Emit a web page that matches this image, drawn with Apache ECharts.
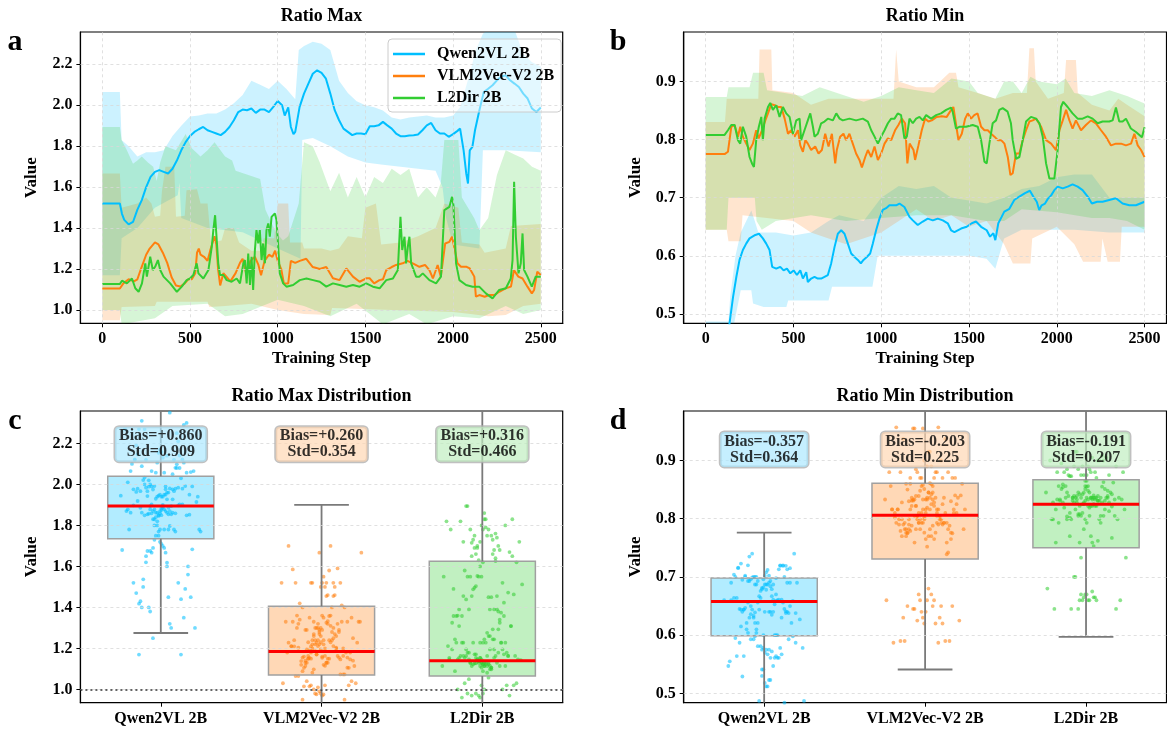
<!DOCTYPE html>
<html><head><meta charset="utf-8">
<script src="https://cdn.jsdelivr.net/npm/echarts@6/dist/echarts.min.js"></script>
<style>html,body{margin:0;padding:0;background:#fff}#c{width:1167px;height:731px}</style>
</head><body><div id="c"></div>
<script>
const models = ['Qwen2VL 2B', 'VLM2Vec-V2 2B', 'L2Dir 2B'];
const stepTicks = [0, 500, 1000, 1500, 2000, 2500];
const maxTicks = [1.0, 1.2, 1.4, 1.6, 1.8, 2.0, 2.2];
const minTicks = [0.5, 0.6, 0.7, 0.8, 0.9];

// ---- Panel a: Ratio Max (step, value)
const qwenMaxLine = [[0,1.52],[100,1.52],[112,1.47],[125,1.44],[150,1.418],[175,1.43],[200,1.49],[225,1.537],[250,1.60],[275,1.65],[300,1.675],[325,1.683],[350,1.675],[375,1.667],[400,1.69],[425,1.73],[450,1.78],[475,1.82],[500,1.85],[525,1.87],[550,1.883],[575,1.894],[600,1.878],[625,1.87],[650,1.862],[675,1.854],[700,1.87],[725,1.894],[750,1.927],[775,1.967],[800,1.979],[825,1.976],[850,1.984],[875,1.963],[900,1.979],[925,1.979],[950,1.967],[975,1.992],[1000,2.021],[1025,2.0],[1040,1.95],[1050,1.943],[1060,1.99],[1075,1.894],[1090,1.859],[1100,1.87],[1125,1.992],[1150,2.057],[1175,2.106],[1200,2.154],[1225,2.171],[1250,2.158],[1275,2.13],[1300,2.057],[1325,1.976],[1350,1.927],[1375,1.886],[1400,1.87],[1425,1.854],[1450,1.862],[1475,1.862],[1500,1.859],[1525,1.898],[1550,1.898],[1575,1.902],[1600,1.919],[1625,1.902],[1650,1.886],[1675,1.862],[1700,1.849],[1725,1.849],[1750,1.852],[1775,1.854],[1800,1.857],[1825,1.878],[1850,1.902],[1875,1.914],[1900,1.878],[1925,1.862],[1950,1.862],[1975,1.846],[2000,1.859],[2025,1.875],[2040,1.886],[2060,1.78],[2075,1.667],[2085,1.618],[2095,1.78],[2110,1.797],[2125,1.878],[2150,1.976],[2175,2.065],[2200,2.081],[2225,2.098],[2250,2.122],[2275,2.141],[2300,2.146],[2325,2.122],[2350,2.106],[2375,2.089],[2400,2.057],[2425,2.033],[2450,1.984],[2475,1.967],[2500,1.989]];
const qwenMaxUpper = [[0,2.065],[100,2.065],[110,1.83],[150,1.80],[200,1.75],[250,1.77],[300,1.77],[350,1.78],[400,1.85],[450,1.90],[500,1.945],[550,1.95],[600,1.96],[650,1.96],[700,1.98],[750,2.01],[800,2.05],[850,2.12],[900,2.10],[950,2.08],[1000,2.12],[1050,2.08],[1100,2.03],[1120,2.27],[1150,2.29],[1200,2.31],[1250,2.30],[1300,2.27],[1350,2.12],[1400,2.06],[1450,2.02],[1500,2.0],[1550,1.99],[1600,1.975],[1650,1.94],[1700,1.93],[1750,1.94],[1800,1.945],[1850,1.95],[1900,1.94],[1950,1.94],[2000,1.95],[2040,1.99],[2090,2.14],[2130,2.27],[2170,2.35],[2200,2.37],[2250,2.39],[2300,2.39],[2350,2.37],[2400,2.25],[2450,2.21],[2500,2.19]];
const qwenMaxLower = [[0,1.17],[100,1.17],[110,1.35],[200,1.40],[300,1.50],[430,1.56],[440,1.62],[450,1.45],[600,1.40],[800,1.38],[1000,1.30],[1130,1.25],[1140,1.83],[1200,1.84],[1300,1.80],[1400,1.75],[1500,1.72],[1600,1.71],[1700,1.70],[1800,1.69],[1900,1.68],[1940,1.60],[1960,1.45],[2000,1.32],[2150,1.30],[2170,1.78],[2300,1.78],[2500,1.77]];

const vlmMaxLine = [[0,1.105],[100,1.105],[120,1.13],[150,1.15],[180,1.14],[200,1.15],[220,1.20],[250,1.27],[270,1.30],[300,1.33],[320,1.32],[345,1.28],[370,1.23],[395,1.16],[420,1.12],[445,1.115],[470,1.13],[490,1.15],[510,1.15],[530,1.18],[540,1.28],[550,1.30],[560,1.27],[580,1.26],[600,1.24],[615,1.29],[640,1.36],[650,1.32],[660,1.20],[672,1.12],[690,1.18],[710,1.16],[730,1.14],[760,1.18],[785,1.23],[800,1.25],[820,1.18],[845,1.24],[870,1.26],[890,1.22],[905,1.17],[925,1.24],[950,1.27],[970,1.26],[985,1.29],[1000,1.24],[1020,1.20],[1035,1.13],[1060,1.13],[1075,1.24],[1100,1.23],[1126,1.24],[1163,1.25],[1200,1.21],[1240,1.20],[1277,1.21],[1315,1.155],[1353,1.146],[1391,1.203],[1429,1.163],[1467,1.138],[1505,1.155],[1524,1.155],[1550,1.13],[1580,1.146],[1600,1.15],[1619,1.195],[1650,1.21],[1675,1.22],[1713,1.228],[1740,1.24],[1770,1.228],[1808,1.211],[1840,1.22],[1865,1.195],[1885,1.154],[1912,1.22],[1930,1.163],[1955,1.325],[1979,1.333],[1994,1.358],[2006,1.31],[2025,1.228],[2045,1.211],[2077,1.211],[2095,1.203],[2121,1.163],[2130,1.065],[2150,1.073],[2180,1.065],[2206,1.073],[2235,1.073],[2263,1.089],[2300,1.106],[2330,1.114],[2347,1.195],[2372,1.163],[2396,1.154],[2424,1.114],[2449,1.081],[2462,1.098],[2480,1.187],[2500,1.171]];
const vlmMaxUpper = [[0,1.667],[100,1.667],[110,1.50],[200,1.52],[250,1.55],[280,1.52],[300,1.455],[330,1.46],[340,1.58],[360,1.70],[410,1.70],[420,1.455],[470,1.46],[480,1.585],[540,1.59],[560,1.52],[600,1.52],[620,1.33],[680,1.34],[700,1.40],[750,1.40],[780,1.33],[850,1.29],[900,1.29],[920,1.35],[980,1.35],[1000,1.52],[1060,1.52],[1070,1.33],[1140,1.33],[1150,1.30],[1250,1.30],[1300,1.29],[1350,1.30],[1400,1.36],[1480,1.35],[1500,1.50],[1560,1.52],[1590,1.32],[1700,1.33],[1800,1.36],[1900,1.40],[1950,1.52],[2030,1.50],[2050,1.33],[2150,1.32],[2180,1.28],[2300,1.30],[2330,1.41],[2500,1.42]];
const vlmMaxLower = [[0,0.95],[100,0.95],[110,1.015],[300,1.02],[310,1.04],[600,1.04],[610,1.015],[700,1.02],[850,1.03],[1000,1.0],[1150,0.98],[1300,0.976],[1310,1.01],[2000,0.99],[2100,0.98],[2200,0.97],[2300,0.975],[2400,1.02],[2500,1.03]];

const l2dMaxLine = [[0,1.127],[100,1.127],[112,1.143],[140,1.13],[169,1.154],[188,1.106],[207,1.089],[226,1.13],[245,1.228],[254,1.163],[273,1.26],[288,1.195],[301,1.211],[317,1.244],[330,1.195],[349,1.163],[387,1.13],[425,1.089],[453,1.114],[481,1.146],[500,1.154],[519,1.171],[538,1.228],[548,1.179],[576,1.154],[605,1.195],[624,1.309],[633,1.39],[643,1.463],[652,1.455],[661,1.228],[671,1.171],[690,1.171],[709,1.146],[737,1.138],[766,1.154],[785,1.13],[804,1.228],[813,1.244],[823,1.13],[832,1.276],[842,1.122],[851,1.26],[860,1.098],[870,1.293],[879,1.39],[889,1.325],[898,1.39],[908,1.244],[917,1.325],[927,1.228],[936,1.39],[946,1.423],[955,1.358],[965,1.455],[984,1.472],[993,1.439],[1003,1.309],[1012,1.179],[1031,1.13],[1050,1.114],[1088,1.122],[1126,1.146],[1164,1.154],[1202,1.146],[1240,1.138],[1277,1.114],[1315,1.13],[1353,1.122],[1391,1.114],[1429,1.122],[1467,1.114],[1505,1.13],[1543,1.114],[1581,1.106],[1619,1.146],[1657,1.154],[1685,1.195],[1700,1.455],[1710,1.293],[1723,1.358],[1732,1.228],[1742,1.309],[1751,1.358],[1761,1.228],[1770,1.228],[1789,1.163],[1808,1.163],[1827,1.179],[1865,1.146],[1903,1.13],[1931,1.163],[1950,1.488],[1960,1.496],[1979,1.504],[1994,1.553],[2002,1.512],[2017,1.228],[2036,1.146],[2074,1.122],[2111,1.114],[2149,1.114],[2187,1.081],[2225,1.057],[2263,1.098],[2301,1.106],[2329,1.154],[2339,1.244],[2348,1.626],[2358,1.358],[2373,1.179],[2386,1.228],[2396,1.374],[2405,1.195],[2424,1.163],[2449,1.114],[2471,1.163],[2500,1.163]];
const l2dMaxUpper = [[0,1.894],[100,1.894],[110,1.83],[140,1.78],[175,1.715],[200,1.73],[225,1.75],[260,1.72],[290,1.70],[310,1.63],[330,1.72],[360,1.80],[420,1.78],[475,1.86],[510,1.79],[560,1.75],[600,1.78],[640,1.82],[700,1.75],[740,1.73],[760,1.68],[900,1.64],[930,1.49],[990,1.38],[1030,1.34],[1060,1.36],[1120,1.52],[1150,1.82],[1200,1.80],[1240,1.72],[1300,1.58],[1350,1.67],[1400,1.55],[1450,1.65],[1500,1.55],[1550,1.65],[1600,1.62],[1650,1.69],[1700,1.66],[1750,1.69],[1800,1.55],[1850,1.60],[1900,1.55],[1930,1.62],[1950,1.83],[2030,1.83],[2050,1.55],[2120,1.45],[2150,1.39],[2200,1.45],[2250,1.66],[2300,1.78],[2350,1.76],[2400,1.74],[2450,1.70],[2500,1.68]];
const l2dMaxLower = [[0,1.0],[100,1.0],[110,0.93],[300,0.96],[400,1.02],[600,1.03],[700,0.97],[800,0.98],[1000,1.05],[1150,1.02],[1300,0.97],[1450,1.03],[1600,0.93],[1750,0.98],[1850,0.93],[2000,0.97],[2150,0.96],[2300,1.02],[2400,0.98],[2500,1.0]];

// ---- Panel b: Ratio Min (step, value)
const qwenMinLine = [[0,0.40],[100,0.40],[120,0.44],[136,0.484],[156,0.529],[175,0.564],[193,0.593],[212,0.61],[231,0.621],[250,0.63],[283,0.636],[304,0.638],[326,0.63],[345,0.621],[364,0.61],[379,0.581],[402,0.578],[425,0.581],[444,0.575],[463,0.578],[482,0.57],[501,0.575],[520,0.567],[539,0.575],[554,0.561],[573,0.572],[582,0.555],[601,0.561],[620,0.564],[639,0.561],[658,0.561],[677,0.564],[696,0.567],[715,0.587],[734,0.615],[753,0.638],[772,0.644],[791,0.638],[810,0.621],[829,0.604],[848,0.598],[867,0.593],[884,0.587],[899,0.593],[918,0.598],[937,0.604],[952,0.621],[971,0.644],[990,0.664],[1009,0.679],[1028,0.682],[1047,0.687],[1066,0.687],[1085,0.687],[1104,0.69],[1132,0.684],[1161,0.667],[1180,0.661],[1208,0.653],[1237,0.659],[1265,0.664],[1294,0.661],[1322,0.664],[1351,0.661],[1379,0.656],[1398,0.644],[1417,0.641],[1436,0.644],[1455,0.647],[1487,0.65],[1516,0.656],[1540,0.659],[1569,0.65],[1601,0.644],[1620,0.633],[1639,0.639],[1650,0.627],[1667,0.656],[1686,0.667],[1701,0.676],[1730,0.681],[1758,0.696],[1787,0.702],[1819,0.708],[1847,0.712],[1866,0.702],[1886,0.693],[1900,0.679],[1914,0.687],[1933,0.69],[1949,0.698],[1968,0.704],[1986,0.713],[2005,0.719],[2034,0.716],[2062,0.719],[2090,0.723],[2119,0.719],[2147,0.713],[2176,0.702],[2200,0.69],[2230,0.693],[2261,0.693],[2299,0.696],[2337,0.699],[2375,0.69],[2413,0.687],[2451,0.687],[2500,0.693]];
const qwenMinUpper = [[0,0.487],[130,0.487],[140,0.53],[170,0.60],[200,0.64],[260,0.678],[280,0.66],[300,0.64],[400,0.64],[500,0.635],[600,0.64],[700,0.66],[760,0.67],[900,0.66],[1000,0.70],[1100,0.72],[1200,0.715],[1300,0.72],[1400,0.70],[1500,0.695],[1600,0.69],[1700,0.70],[1800,0.715],[1900,0.72],[2000,0.735],[2100,0.74],[2200,0.74],[2300,0.70],[2400,0.70],[2500,0.70]];
const qwenMinLower = [[0,0.40],[130,0.40],[140,0.45],[200,0.541],[260,0.541],[270,0.518],[330,0.512],[460,0.512],[470,0.523],[700,0.523],[720,0.547],[950,0.547],[980,0.60],[1300,0.60],[1500,0.60],[1600,0.595],[1650,0.578],[1700,0.63],[1800,0.645],[2100,0.645],[2300,0.64],[2500,0.64]];

const vlmMinLine = [[0,0.775],[108,0.775],[127,0.779],[146,0.822],[165,0.825],[184,0.805],[197,0.822],[212,0.805],[231,0.793],[250,0.782],[269,0.793],[288,0.816],[302,0.802],[321,0.816],[340,0.833],[355,0.845],[374,0.861],[393,0.859],[412,0.856],[431,0.856],[450,0.836],[469,0.81],[487,0.816],[506,0.805],[526,0.816],[539,0.79],[554,0.779],[568,0.799],[582,0.793],[601,0.782],[624,0.788],[643,0.776],[662,0.782],[681,0.81],[700,0.788],[719,0.81],[738,0.759],[747,0.782],[766,0.805],[785,0.81],[800,0.799],[819,0.81],[838,0.793],[857,0.776],[876,0.765],[890,0.752],[909,0.77],[924,0.782],[943,0.77],[962,0.788],[981,0.765],[1000,0.776],[1019,0.793],[1038,0.802],[1057,0.799],[1079,0.816],[1098,0.825],[1117,0.836],[1136,0.828],[1149,0.759],[1162,0.793],[1184,0.782],[1193,0.765],[1212,0.79],[1231,0.816],[1250,0.836],[1269,0.831],[1288,0.833],[1316,0.839],[1345,0.84],[1373,0.839],[1392,0.848],[1411,0.856],[1421,0.858],[1440,0.799],[1459,0.81],[1478,0.836],[1493,0.845],[1512,0.836],[1530,0.842],[1549,0.845],[1569,0.822],[1588,0.816],[1607,0.816],[1626,0.81],[1645,0.805],[1664,0.799],[1683,0.799],[1702,0.793],[1721,0.77],[1736,0.739],[1749,0.742],[1768,0.776],[1787,0.776],[1806,0.799],[1825,0.816],[1844,0.831],[1863,0.833],[1882,0.836],[1911,0.822],[1939,0.799],[1968,0.793],[1996,0.782],[2015,0.816],[2034,0.833],[2053,0.851],[2072,0.833],[2090,0.819],[2109,0.833],[2138,0.816],[2166,0.825],[2195,0.833],[2223,0.828],[2252,0.816],[2280,0.805],[2309,0.79],[2337,0.793],[2366,0.793],[2394,0.79],[2423,0.793],[2442,0.81],[2461,0.79],[2480,0.782],[2500,0.77]];
const vlmMinUpper = [[0,0.83],[110,0.83],[120,0.87],[300,0.87],[307,0.955],[374,0.955],[380,0.885],[500,0.88],[600,0.86],[700,0.87],[1070,0.87],[1085,0.955],[1100,0.90],[1200,0.89],[1300,0.89],[1388,0.915],[1426,0.915],[1440,0.89],[1550,0.88],[1650,0.87],[1750,0.88],[1830,0.88],[1844,0.957],[1870,0.957],[1880,0.90],[1950,0.87],[2040,0.88],[2053,0.937],[2109,0.937],[2120,0.88],[2200,0.86],[2300,0.85],[2350,0.87],[2400,0.86],[2500,0.84]];
const vlmMinLower = [[0,0.645],[120,0.645],[130,0.625],[200,0.625],[210,0.67],[500,0.66],[600,0.64],[700,0.63],[800,0.62],[1000,0.64],[1100,0.66],[1200,0.68],[1300,0.66],[1400,0.67],[1500,0.65],[1600,0.66],[1700,0.62],[1750,0.587],[1850,0.587],[1860,0.63],[2000,0.65],[2100,0.62],[2150,0.59],[2250,0.59],[2260,0.63],[2290,0.59],[2360,0.59],[2370,0.65],[2500,0.65]];

const l2dMinLine = [[0,0.808],[108,0.808],[127,0.816],[146,0.825],[165,0.825],[184,0.799],[197,0.793],[212,0.822],[231,0.805],[250,0.77],[264,0.759],[275,0.753],[288,0.799],[303,0.822],[317,0.839],[326,0.799],[336,0.836],[355,0.856],[368,0.863],[383,0.851],[402,0.859],[421,0.839],[440,0.856],[459,0.845],[478,0.839],[497,0.81],[516,0.833],[535,0.836],[544,0.799],[563,0.816],[582,0.833],[596,0.845],[611,0.822],[620,0.805],[639,0.81],[658,0.828],[677,0.831],[696,0.836],[725,0.833],[744,0.845],[763,0.836],[781,0.833],[819,0.836],[857,0.833],[895,0.836],[924,0.831],[943,0.816],[962,0.805],[981,0.793],[1000,0.805],[1019,0.816],[1038,0.828],[1057,0.836],[1076,0.836],[1094,0.845],[1113,0.842],[1132,0.802],[1146,0.805],[1161,0.836],[1180,0.828],[1199,0.836],[1218,0.839],[1237,0.833],[1256,0.842],[1284,0.836],[1313,0.842],[1341,0.845],[1370,0.851],[1398,0.855],[1407,0.848],[1426,0.819],[1445,0.822],[1483,0.822],[1521,0.825],[1550,0.822],[1569,0.799],[1588,0.762],[1601,0.759],[1616,0.793],[1635,0.828],[1654,0.833],[1673,0.851],[1692,0.854],[1720,0.848],[1739,0.828],[1749,0.799],[1768,0.767],[1787,0.77],[1806,0.799],[1825,0.831],[1853,0.839],[1882,0.836],[1901,0.828],[1920,0.805],[1939,0.759],[1958,0.733],[1986,0.733],[2005,0.782],[2024,0.856],[2037,0.865],[2062,0.856],[2090,0.845],[2119,0.836],[2147,0.836],[2176,0.84],[2204,0.836],[2233,0.828],[2261,0.831],[2299,0.831],[2318,0.833],[2337,0.855],[2356,0.831],[2375,0.831],[2394,0.836],[2422,0.819],[2451,0.813],[2485,0.804],[2500,0.821]];
const l2dMinUpper = [[0,0.873],[120,0.873],[130,0.89],[250,0.89],[270,0.915],[330,0.915],[350,0.885],[450,0.88],[550,0.875],[650,0.89],[800,0.875],[900,0.865],[1000,0.875],[1100,0.89],[1200,0.885],[1300,0.88],[1400,0.905],[1500,0.90],[1550,0.88],[1650,0.87],[1700,0.90],[1750,0.90],[1800,0.88],[1850,0.908],[1900,0.90],[2000,0.895],[2050,0.905],[2100,0.88],[2200,0.875],[2300,0.885],[2400,0.875],[2500,0.862]];
const l2dMinLower = [[0,0.645],[120,0.645],[130,0.70],[280,0.70],[290,0.66],[320,0.645],[400,0.66],[600,0.67],[800,0.66],[1000,0.665],[1200,0.67],[1400,0.67],[1600,0.66],[1700,0.66],[1800,0.68],[2000,0.675],[2200,0.665],[2300,0.665],[2400,0.66],[2500,0.645]];

const maxQ1 = [1.735, 1.07, 1.065];
const maxMedian = [1.895, 1.185, 1.14];
const maxQ3 = [2.04, 1.405, 1.625];
const maxWhiskerLow = [1.275, 0.90, 0.90];
const maxWhiskerHigh = [2.50, 1.90, 2.50];
const maxBias = ['+0.860', '+0.260', '+0.316'];
const maxStd = ['0.909', '0.354', '0.466'];

const minQ1 = [0.599, 0.731, 0.750];
const minMedian = [0.658, 0.806, 0.825];
const minQ3 = [0.698, 0.861, 0.867];
const minWhiskerLow = [0.45, 0.541, 0.597];
const minWhiskerHigh = [0.776, 1.02, 1.02];
const minBias = ['-0.357', '-0.203', '-0.191'];
const minStd = ['0.364', '0.225', '0.207'];

// ---------------------------------------------------------------
const FONT = '"Liberation Serif", "Times New Roman", serif';
const colors = ['#00BFFF', '#FF7F0E', '#32CD32'];
const bandColors = ['rgba(0,191,255,0.2)', 'rgba(255,127,14,0.2)', 'rgba(50,205,50,0.2)'];
const boxFill = ['rgba(0,191,255,0.3)', 'rgba(255,127,14,0.3)', 'rgba(50,205,50,0.3)'];
const annoFill = ['rgba(170,232,255,0.85)', 'rgba(255,214,178,0.85)', 'rgba(190,238,190,0.85)'];
const ptColors = ['rgba(0,191,255,0.7)', 'rgba(255,127,14,0.7)', 'rgba(50,205,50,0.7)'];

const maxLines = [qwenMaxLine, vlmMaxLine, l2dMaxLine];
const maxUpper = [qwenMaxUpper, vlmMaxUpper, l2dMaxUpper];
const maxLower = [qwenMaxLower, vlmMaxLower, l2dMaxLower];
const minLines = [qwenMinLine, vlmMinLine, l2dMinLine];
const minUpper = [qwenMinUpper, vlmMinUpper, l2dMinUpper];
const minLower = [qwenMinLower, vlmMinLower, l2dMinLower];

const tickFont = {fontFamily: FONT, fontWeight: 'bold', fontSize: 16, color: '#000'};
const nameFont = {fontFamily: FONT, fontWeight: 'bold', fontSize: 17, color: '#000'};
const axLine = {show: true, onZero: false, lineStyle: {color: '#000', width: 1.2}};

function stepAxis(gi) {
  return {type: 'value', gridIndex: gi, min: -125, max: 2625,
    name: 'Training Step', nameLocation: 'middle', nameGap: 27, nameTextStyle: nameFont,
    axisLine: axLine,
    axisTick: {show: true, customValues: stepTicks, length: 4, lineStyle: {color: '#000', width: 1}},
    axisLabel: Object.assign({customValues: stepTicks, margin: 8, formatter: v => String(Math.round(v))}, tickFont),
    splitLine: {show: false}};
}
function valAxis(gi, mn, mx, ticks) {
  return {type: 'value', gridIndex: gi, min: mn, max: mx,
    name: 'Value', nameLocation: 'middle', nameGap: 40, nameTextStyle: nameFont,
    axisLine: axLine,
    axisTick: {show: true, customValues: ticks, length: 4, lineStyle: {color: '#000', width: 1}},
    axisLabel: Object.assign({customValues: ticks, margin: 8, formatter: v => v.toFixed(1)}, tickFont),
    splitLine: {show: false}};
}
function catAxis(gi) {
  return {type: 'category', gridIndex: gi, data: models,
    axisLine: axLine,
    axisTick: {show: true, alignWithLabel: true, length: 4, lineStyle: {color: '#000'}},
    axisLabel: Object.assign({margin: 8}, tickFont),
    splitLine: {show: false}};
}
function posAxis(gi) {
  return {type: 'value', gridIndex: gi, min: 0.5, max: 3.5, show: false, splitLine: {show: false}};
}

const gridLineStyle = {type: [3, 3], color: '#d8d8d8', width: 0.8};
function gridLines(xi, yi, xs, ys) {
  const data = [];
  xs.forEach(v => data.push({xAxis: v}));
  ys.forEach(v => data.push({yAxis: v}));
  return {type: 'line', xAxisIndex: xi, yAxisIndex: yi, data: [], z: 0, silent: true,
    markLine: {silent: true, symbol: ['none', 'none'], label: {show: false},
      lineStyle: gridLineStyle, data: data, animation: false}};
}

function bandSeries(upper, lower, color, xi, yi) {
  return {type: 'custom', xAxisIndex: xi, yAxisIndex: yi, clip: true, silent: true, z: 1,
    data: [[0, 0]], animation: false,
    renderItem: (p, api) => {
      const pts = upper.map(d => api.coord(d)).concat(lower.slice().reverse().map(d => api.coord(d)));
      return {type: 'polygon', shape: {points: pts}, style: {fill: color}};
    }};
}
function lineSeries(name, data, color, xi, yi) {
  return {type: 'line', name: name, xAxisIndex: xi, yAxisIndex: yi, data: data, symbol: 'none',
    lineStyle: {color: color, width: 2}, itemStyle: {color: color}, z: 3, animation: false};
}

const BOXHW = 0.33, CAPHW = 0.17;
function boxData(q1, med, q3, lo, hi) {
  return models.map((m, i) => [i + 1, q1[i], med[i], q3[i], lo[i], hi[i]]);
}
function boxFillSeries(data, xi, yi) {
  return {type: 'custom', xAxisIndex: xi, yAxisIndex: yi, clip: true, z: 1, silent: true, data: data, animation: false,
    renderItem: (p, api) => {
      const x = api.value(0);
      const a = api.coord([x - BOXHW, api.value(3)]);
      const b = api.coord([x + BOXHW, api.value(1)]);
      return {type: 'rect', shape: {x: a[0], y: a[1], width: b[0] - a[0], height: b[1] - a[1]},
        style: {fill: boxFill[p.dataIndex]}};
    }};
}
function boxLineSeries(data, xi, yi) {
  return {type: 'custom', xAxisIndex: xi, yAxisIndex: yi, clip: true, z: 4, silent: true, data: data, animation: false,
    renderItem: (p, api) => {
      const x = api.value(0);
      const q1 = api.value(1), med = api.value(2), q3 = api.value(3), lo = api.value(4), hi = api.value(5);
      const gray = {stroke: '#7a7a7a', lineWidth: 1.8, fill: null};
      const ln = (p1, p2, st) => ({type: 'line', shape: {x1: p1[0], y1: p1[1], x2: p2[0], y2: p2[1]}, style: st});
      const a = api.coord([x - BOXHW, q3]);
      const b = api.coord([x + BOXHW, q1]);
      return {type: 'group', children: [
        {type: 'rect', shape: {x: a[0], y: a[1], width: b[0] - a[0], height: b[1] - a[1]},
          style: {stroke: '#a0a0a0', lineWidth: 1.5, fill: null}},
        ln(api.coord([x, q1]), api.coord([x, lo]), gray),
        ln(api.coord([x, q3]), api.coord([x, hi]), gray),
        ln(api.coord([x - CAPHW, lo]), api.coord([x + CAPHW, lo]), gray),
        ln(api.coord([x - CAPHW, hi]), api.coord([x + CAPHW, hi]), gray),
        ln(api.coord([x - BOXHW, med]), api.coord([x + BOXHW, med]), {stroke: '#ff0000', lineWidth: 3})
      ]};
    }};
}
function jitter(k) {
  const u = (k * 0.6180339887) % 1, v = (k * 0.4142135624 + 0.37) % 1;
  return (u + v - 1) * 0.27;
}
function scatterSeries(i, arrays, xi, yi) {
  const vals = [];
  arrays.forEach(arr => arr.forEach(p => vals.push(p[1])));
  return {type: 'scatter', xAxisIndex: xi, yAxisIndex: yi, z: 2, silent: true, symbolSize: 3.8,
    itemStyle: {color: ptColors[i]}, animation: false,
    data: vals.map((v, k) => [i + 1 + jitter(k + i * 7), v])};
}
function annoSeries(bias, std, yPos, xi, yi) {
  return {type: 'scatter', xAxisIndex: xi, yAxisIndex: yi, z: 6, silent: true, symbolSize: 1,
    itemStyle: {color: 'rgba(0,0,0,0)'}, animation: false,
    data: models.map((m, i) => ({value: [i + 1, yPos],
      label: {backgroundColor: annoFill[i]}})),
    label: {show: true, position: 'inside', formatter: p => 'Bias=' + bias[p.dataIndex] + '\nStd=' + std[p.dataIndex],
      fontFamily: FONT, fontWeight: 'bold', fontSize: 16, lineHeight: 16, color: '#000',
      borderColor: '#b0b0b0', borderWidth: 1.5, borderRadius: 4, padding: [2, 4, 1, 4]}};
}

const series = [];
series.push(gridLines(0, 0, stepTicks, maxTicks));
series.push(gridLines(1, 1, stepTicks, minTicks));
series.push(gridLines(3, 2, [], maxTicks));
series.push(gridLines(5, 3, [], minTicks));
series.push({type: 'line', xAxisIndex: 3, yAxisIndex: 2, data: [], z: 5, silent: true,
  markLine: {silent: true, symbol: ['none', 'none'], label: {show: false}, animation: false,
    lineStyle: {type: [2, 3], color: '#333', width: 1.5}, data: [{yAxis: 1.0}]}});
for (let i = 0; i < 3; i++) {
  series.push(bandSeries(maxUpper[i], maxLower[i], bandColors[i], 0, 0));
  series.push(bandSeries(minUpper[i], minLower[i], bandColors[i], 1, 1));
}
for (let i = 0; i < 3; i++) {
  series.push(lineSeries(models[i], maxLines[i], colors[i], 0, 0));
  series.push(lineSeries(models[i], minLines[i], colors[i], 1, 1));
}
const maxBox = boxData(maxQ1, maxMedian, maxQ3, maxWhiskerLow, maxWhiskerHigh);
const minBox = boxData(minQ1, minMedian, minQ3, minWhiskerLow, minWhiskerHigh);
series.push(boxFillSeries(maxBox, 3, 2));
series.push(boxFillSeries(minBox, 5, 3));
for (let i = 0; i < 3; i++) {
  series.push(scatterSeries(i, [maxLines[i], maxUpper[i], maxLower[i]], 3, 2));
  series.push(scatterSeries(i, [minLines[i], minUpper[i], minLower[i]], 5, 3));
}
series.push(boxLineSeries(maxBox, 3, 2));
series.push(boxLineSeries(minBox, 5, 3));
series.push(annoSeries(maxBias, maxStd, 2.196, 3, 2));
series.push(annoSeries(minBias, minStd, 0.919, 5, 3));

const gridBase = {show: true, borderColor: '#000', borderWidth: 1.2, containLabel: false};
const titleFont = 'bold 18px ' + FONT;
const letterFont = 'bold 30px ' + FONT;
function txt(x, y, text, font) {
  return {type: 'text', x: x, y: y, silent: true,
    style: {text: text, font: font, fill: '#000', align: 'center', verticalAlign: 'middle'}};
}

const option = {
  animation: false,
  backgroundColor: '#fff',
  grid: [
    Object.assign({left: 80.4, top: 32, width: 482.3, height: 291.3}, gridBase),
    Object.assign({left: 683.7, top: 32, width: 482.8, height: 291.3}, gridBase),
    Object.assign({left: 80.4, top: 411, width: 482.3, height: 291.7}, gridBase),
    Object.assign({left: 683.7, top: 411, width: 482.8, height: 291.7}, gridBase)
  ],
  xAxis: [stepAxis(0), stepAxis(1), catAxis(2), posAxis(2), catAxis(3), posAxis(3)],
  yAxis: [valAxis(0, 0.935, 2.358, maxTicks), valAxis(1, 0.484, 0.985, minTicks),
          valAxis(2, 0.935, 2.358, maxTicks), valAxis(3, 0.484, 0.985, minTicks)],
  legend: {left: 388, top: 39, orient: 'vertical', data: models, icon: 'rect', itemWidth: 32, itemHeight: 2.5, itemGap: 6,
    textStyle: {fontFamily: FONT, fontWeight: 'bold', fontSize: 16, lineHeight: 16, color: '#000', padding: [0, 0, 0, 7]},
    backgroundColor: 'rgba(255,255,255,0.45)', borderColor: '#cccccc', borderWidth: 1, borderRadius: 4,
    padding: [7, 7, 6, 5]},
  graphic: [
    txt(321.5, 16, 'Ratio Max', titleFont),
    txt(925, 16, 'Ratio Min', titleFont),
    txt(321.5, 396, 'Ratio Max Distribution', titleFont),
    txt(925, 396, 'Ratio Min Distribution', titleFont),
    txt(15, 42, 'a', letterFont),
    txt(618, 42, 'b', letterFont),
    txt(15, 421, 'c', letterFont),
    txt(618, 421, 'd', letterFont)
  ],
  series: series
};
const chart = echarts.init(document.getElementById('c'), null, {renderer: 'canvas'});
chart.setOption(option);
</script>
</body></html>
